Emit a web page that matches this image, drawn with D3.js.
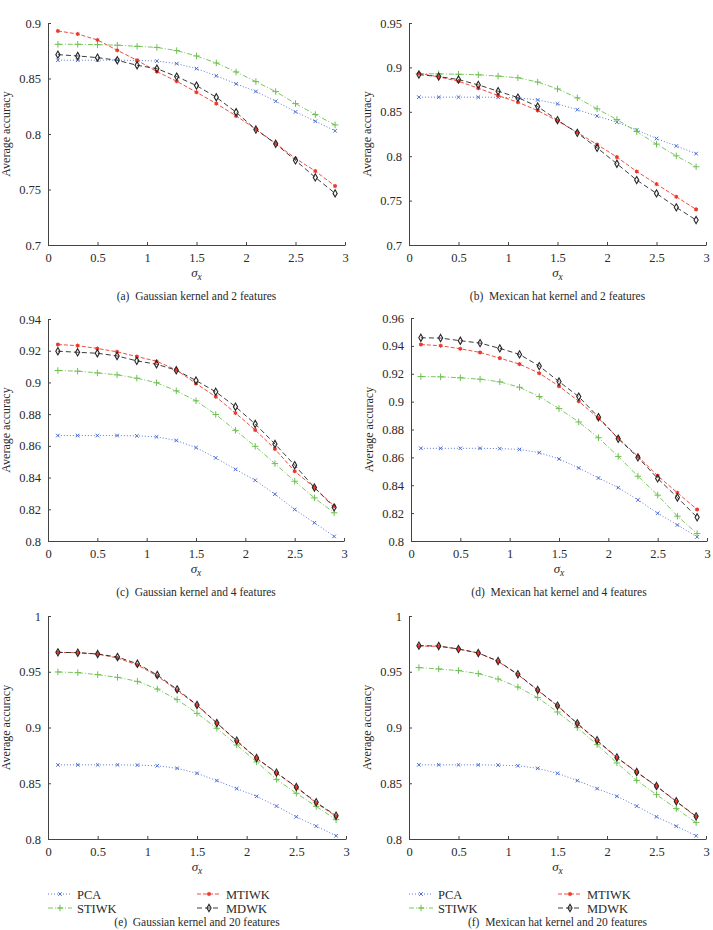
<!DOCTYPE html>
<html><head><meta charset="utf-8">
<script src="https://cdn.jsdelivr.net/npm/d3@7"></script>
<style>
body{margin:0;background:#fff;}
svg{display:block;font-family:"Liberation Serif","DejaVu Serif",serif;}
svg text{font-family:"Liberation Serif","DejaVu Serif",serif;}
</style></head><body>
<svg id="chart" width="713" height="930"></svg>
<script>
// ---------- data ----------
const sigma = [0.1,0.3,0.5,0.7,0.9,1.1,1.3,1.5,1.7,1.9,2.1,2.3,2.5,2.7,2.9];
const seriesNames = ["PCA","STIWK","MTIWK","MDWK"];
const xTicks = [0,0.5,1,1.5,2,2.5,3];

const pca = [0.8665,0.8665,0.8665,0.8665,0.8663,0.8657,0.8634,0.8589,0.8524,0.8452,0.8383,0.8295,0.8199,0.8115,0.8029];

const stiwkA = [0.8808,0.8808,0.8805,0.8800,0.8790,0.8780,0.8751,0.8703,0.8640,0.8559,0.8472,0.8382,0.8274,0.8175,0.8082];
const mtiwkA = [0.8928,0.8901,0.8847,0.8754,0.8664,0.8562,0.8475,0.8376,0.8274,0.8163,0.8043,0.7915,0.7780,0.7666,0.7531];
const mdwkA  = [0.8715,0.8703,0.8688,0.8664,0.8619,0.8589,0.8517,0.8436,0.8331,0.8196,0.8040,0.7912,0.7762,0.7609,0.7465];

const stiwkB = [0.8930,0.8927,0.8923,0.8917,0.8902,0.8883,0.8835,0.8758,0.8657,0.8533,0.8413,0.8278,0.8136,0.8004,0.7881];
const mtiwkB = [0.8934,0.8893,0.8844,0.8765,0.8683,0.8608,0.8514,0.8398,0.8267,0.8132,0.7990,0.7828,0.7686,0.7543,0.7401];
const mdwkB  = [0.8919,0.8897,0.8863,0.8803,0.8732,0.8660,0.8559,0.8406,0.8263,0.8094,0.7915,0.7731,0.7581,0.7424,0.7281];

const stiwkC = [0.9075,0.9071,0.9060,0.9048,0.9027,0.8998,0.8947,0.8884,0.8798,0.8698,0.8597,0.8488,0.8377,0.8272,0.8178];
const mtiwkC = [0.9239,0.9232,0.9214,0.9193,0.9163,0.9134,0.9079,0.8993,0.8910,0.8807,0.8700,0.8580,0.8440,0.8337,0.8220];
const mdwkC  = [0.9197,0.9190,0.9184,0.9167,0.9136,0.9115,0.9077,0.9012,0.8941,0.8847,0.8738,0.8612,0.8478,0.8337,0.8212];

const stiwkD = [0.9180,0.9178,0.9171,0.9161,0.9142,0.9103,0.9036,0.8950,0.8854,0.8741,0.8607,0.8465,0.8329,0.8178,0.8053];
const mtiwkD = [0.9410,0.9401,0.9379,0.9353,0.9312,0.9269,0.9204,0.9111,0.9003,0.8880,0.8739,0.8607,0.8468,0.8346,0.8226];
const mdwkD  = [0.9458,0.9456,0.9437,0.9420,0.9382,0.9339,0.9255,0.9144,0.9036,0.8888,0.8734,0.8600,0.8449,0.8312,0.8170];

const stiwkE = [0.9498,0.9492,0.9474,0.9450,0.9414,0.9345,0.9250,0.9127,0.8993,0.8843,0.8691,0.8535,0.8410,0.8293,0.8173];
const mtiwkE = [0.9674,0.9671,0.9659,0.9623,0.9561,0.9462,0.9333,0.9199,0.9040,0.8876,0.8723,0.8592,0.8463,0.8323,0.8203];
const mdwkE  = [0.9674,0.9671,0.9659,0.9632,0.9572,0.9471,0.9342,0.9202,0.9040,0.8882,0.8726,0.8595,0.8466,0.8329,0.8209];

const stiwkF = [0.9537,0.9525,0.9510,0.9483,0.9435,0.9363,0.9268,0.9139,0.8999,0.8846,0.8682,0.8526,0.8398,0.8272,0.8147];
const mtiwkF = [0.9731,0.9728,0.9704,0.9668,0.9593,0.9474,0.9333,0.9193,0.9034,0.8879,0.8729,0.8598,0.8472,0.8335,0.8200];
const mdwkF  = [0.9734,0.9731,0.9704,0.9668,0.9596,0.9477,0.9336,0.9196,0.9037,0.8885,0.8732,0.8601,0.8475,0.8338,0.8203];

const yTicksA = [0.7,0.75,0.8,0.85,0.9];
const yTicksB = [0.7,0.75,0.8,0.85,0.9,0.95];
const yTicksC = [0.8,0.82,0.84,0.86,0.88,0.9,0.92,0.94];
const yTicksD = [0.8,0.82,0.84,0.86,0.88,0.9,0.92,0.94,0.96];
const yTicksE = [0.8,0.85,0.9,0.95,1];
const yTicksF = [0.8,0.85,0.9,0.95,1];

const captions = ["(a)  Gaussian kernel and 2 features","(b)  Mexican hat kernel and 2 features",
  "(c)  Gaussian kernel and 4 features","(d)  Mexican hat kernel and 4 features",
  "(e)  Gaussian kernel and 20 features","(f)  Mexican hat kernel and 20 features"];

// ---------- layout / style ----------
const panels = [
  {x0:48, x1:345, y0:23, y1:245, ticks:yTicksA, s:[pca,stiwkA,mtiwkA,mdwkA]},
  {x0:409,x1:706, y0:23, y1:245, ticks:yTicksB, s:[pca,stiwkB,mtiwkB,mdwkB]},
  {x0:48, x1:344, y0:319,y1:541, ticks:yTicksC, s:[pca,stiwkC,mtiwkC,mdwkC]},
  {x0:411,x1:707, y0:318,y1:541, ticks:yTicksD, s:[pca,stiwkD,mtiwkD,mdwkD]},
  {x0:48, x1:346, y0:616,y1:839, ticks:yTicksE, s:[pca,stiwkE,mtiwkE,mdwkE], legend:true},
  {x0:409,x1:706, y0:616,y1:839, ticks:yTicksF, s:[pca,stiwkF,mtiwkF,mdwkF], legend:true}
];
const colors = ["#4a6bd0","#6cc04f","#ec3a2c","#262626"];
const dashes = ["1,2","5,2,1,2","4,2","5,3"];
const serif = "Liberation Serif";

const svg = d3.select("#chart");
const textColor = "#2a2a2a";
const fmt = d => String(+(+d).toFixed(3));

function drawMarker(g, type, x, y) {
  const c = colors[type];
  if (type === 0) {
    g.append("path").attr("d", d3.symbol(d3.symbolTimes, 10)())
      .attr("transform", `translate(${x},${y})`).attr("fill","none").attr("stroke",c).attr("stroke-width",1);
  } else if (type === 1) {
    g.append("path").attr("d", d3.symbol(d3.symbolPlus, 16)())
      .attr("transform", `translate(${x},${y})`).attr("fill","none").attr("stroke",c).attr("stroke-width",1);
  } else if (type === 2) {
    g.append("circle").attr("cx",x).attr("cy",y).attr("r",1.8).attr("fill",c);
    g.append("path").attr("d", d3.symbol(d3.symbolAsterisk, 12)())
      .attr("transform", `translate(${x},${y})`).attr("fill","none").attr("stroke",c).attr("stroke-width",0.9);
  } else {
    g.append("path").attr("d", d3.symbol(d3.symbolDiamond, 15)())
      .attr("transform", `translate(${x},${y})`).attr("fill","none").attr("stroke",c).attr("stroke-width",1.1);
  }
}

panels.forEach((p, i) => {
  const x = d3.scaleLinear().domain([0,3]).range([p.x0, p.x1]);
  const y = d3.scaleLinear().domain([p.ticks[0], p.ticks[p.ticks.length-1]]).range([p.y1, p.y0]);
  const g = svg.append("g");

  // axes
  const ax = g.append("g").attr("transform",`translate(0,${p.y1})`)
    .call(d3.axisBottom(x).tickValues(xTicks).tickFormat(fmt).tickSizeInner(-3).tickSizeOuter(0).tickPadding(8));
  const ay = g.append("g").attr("transform",`translate(${p.x0},0)`)
    .call(d3.axisLeft(y).tickValues(p.ticks).tickFormat(fmt).tickSizeInner(-3).tickSizeOuter(0).tickPadding(7));
  [ax, ay].forEach(a => {
    a.attr("font-family", serif).attr("font-size", 12.5);
    a.selectAll("path.domain").attr("stroke","#444");
    a.selectAll("line").attr("stroke","#444");
    a.selectAll("text").attr("fill",textColor);
  });

  // series
  const line = d3.line().x((d,k) => x(sigma[k])).y(d => y(d));
  p.s.forEach((vals, si) => {
    g.append("path").datum(vals).attr("d", line).attr("fill","none")
      .attr("stroke", colors[si]).attr("stroke-width", 0.9).attr("stroke-dasharray", dashes[si]);
  });
  p.s.forEach((vals, si) => {
    const mg = g.append("g");
    vals.forEach((v,k) => drawMarker(mg, si, x(sigma[k]), y(v)));
  });

  const cx = (p.x0 + p.x1) / 2;
  // y label
  g.append("text").attr("transform",`translate(${p.x0-38},${(p.y0+p.y1)/2}) rotate(-90)`)
    .attr("text-anchor","middle").attr("fill",textColor).attr("font-family",serif)
    .attr("font-size",12).text("Average accuracy");
  // x label
  const xl = g.append("text").attr("x",cx).attr("y",p.y1+32).attr("text-anchor","middle")
    .attr("fill",textColor).attr("font-family",serif).attr("font-size",13).attr("font-style","italic");
  xl.append("tspan").text("σ");
  xl.append("tspan").attr("dy",2.5).attr("font-size",9.5).text("x");

  // legend
  let capY = p.y1 + 55;
  if (p.legend) {
    const lx = [p.x0, p.x0 + 149];
    seriesNames.forEach((nm, si) => {
      const col = si === 0 || si === 1 ? 0 : 1;
      const row = si === 0 || si === 2 ? 0 : 1;
      const ly = p.y1 + 55 + row * 14;
      const bx = lx[col];
      g.append("line").attr("x1",bx).attr("x2",bx+24).attr("y1",ly).attr("y2",ly)
        .attr("stroke",colors[si]).attr("stroke-width",0.9).attr("stroke-dasharray",dashes[si]);
      drawMarker(g, si, bx+12, ly);
      g.append("text").attr("x",bx+29).attr("y",ly+4.5).attr("fill",textColor)
        .attr("font-family",serif).attr("font-size",12.5).text(nm);
    });
    capY = 926;
  }
  // caption
  g.append("text").attr("x",cx).attr("y",capY).attr("text-anchor","middle")
    .attr("fill",textColor).attr("font-family",serif).attr("font-size",11.5)
    .attr("xml:space","preserve").style("white-space","pre").text(captions[i]);
});
</script>
</body></html>
